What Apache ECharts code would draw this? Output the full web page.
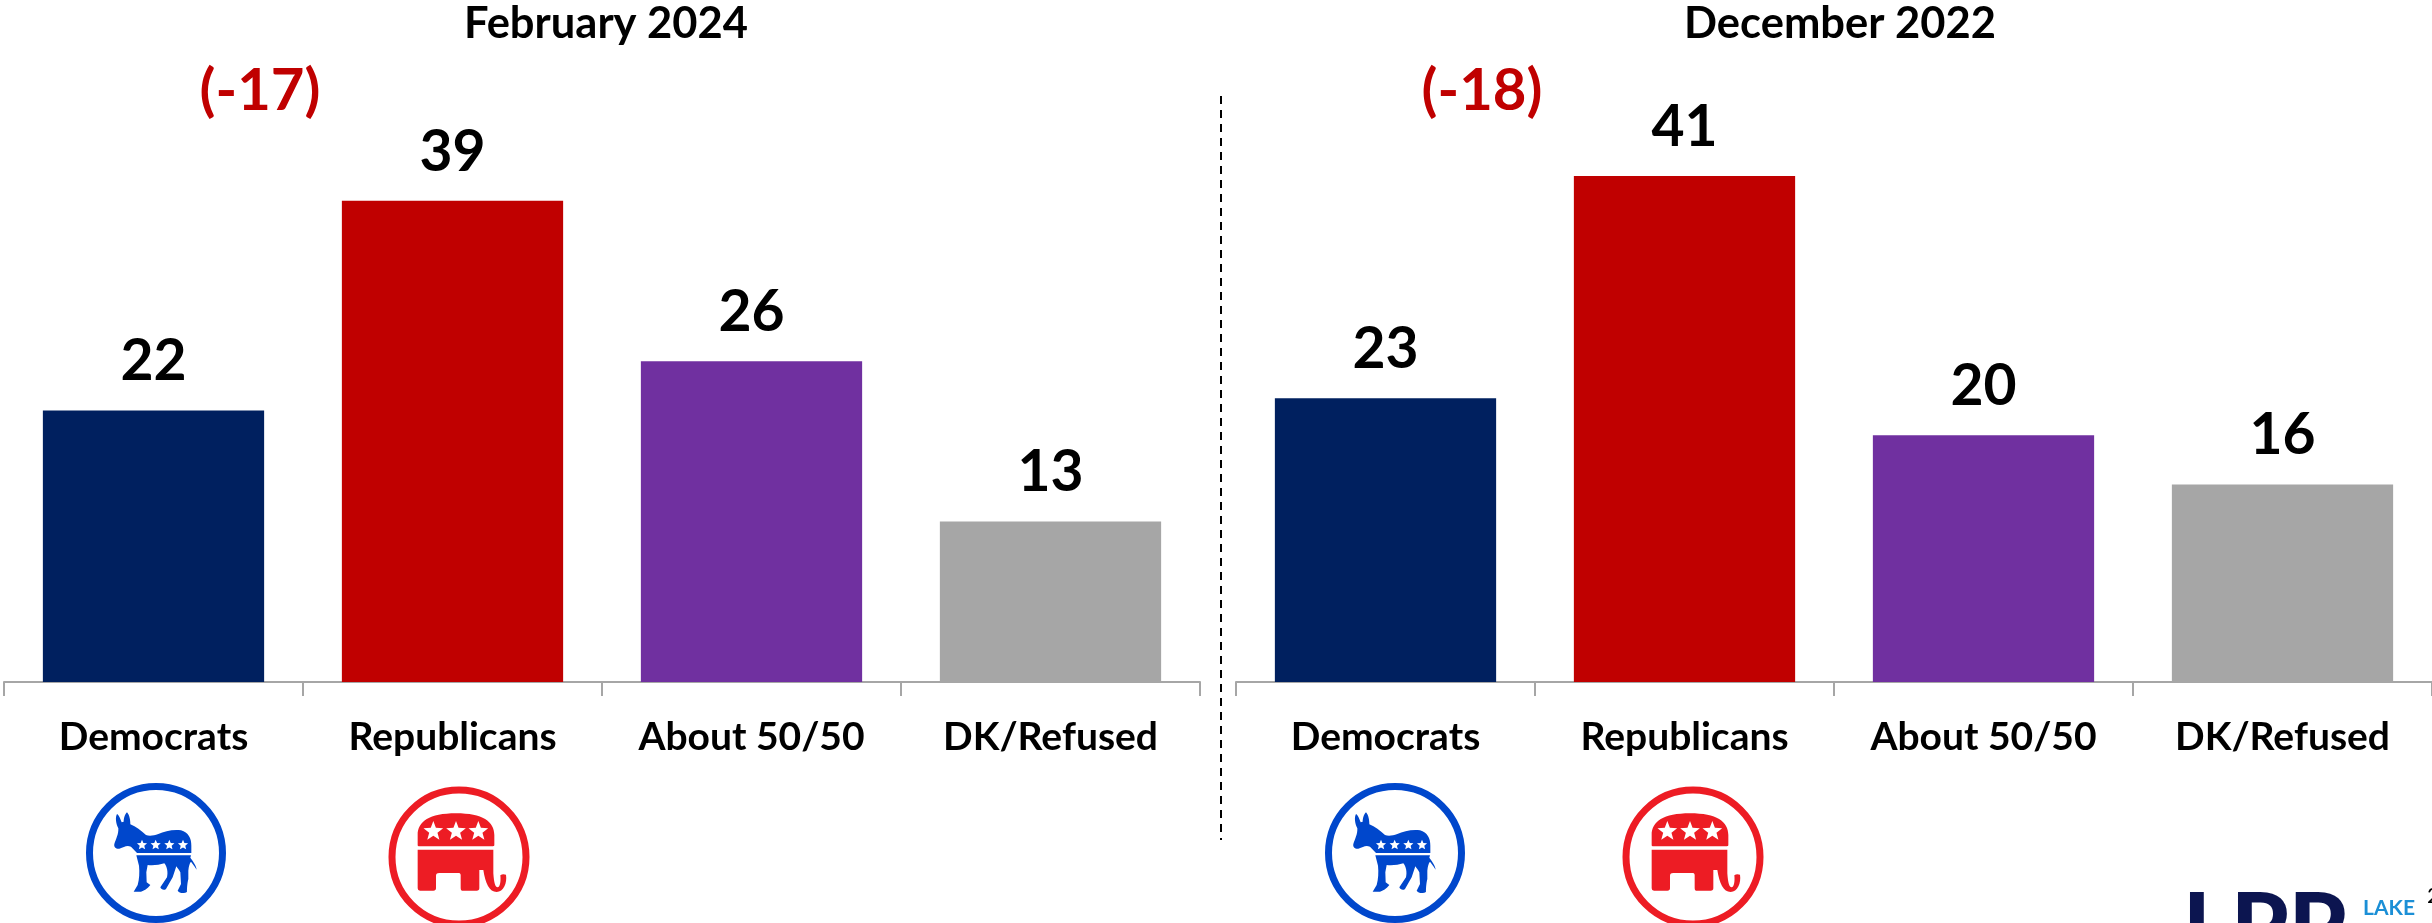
<!DOCTYPE html>
<html><head><meta charset="utf-8">
<style>html,body{margin:0;padding:0;background:#fff}#c{width:2432px;height:923px}</style>
<script src="https://cdn.jsdelivr.net/npm/echarts@6/dist/echarts.min.js"></script>
</head><body><div id="c"></div>
<script>
const categories = ['Democrats','Republicans','About 50/50','DK/Refused'];
const feb2024 = [22,39,26,13];
const dec2022 = [23,41,20,16];
const barColors = ['#00205F','#C00000','#7030A0','#A6A6A6'];
const titles = ['February 2024','December 2022'];
const netLabels = ['(-17)','(-18)'];
const FONT = 'Lato';

const donkey = 'M108 105 C114 108 118 120 122 130 L128 128 C128 118 132 105 138 100 C146 108 148 125 148 136 C165 143 180 155 195 168 C205 172 218 170 232 165 C250 158 275 150 300 154 C322 160 331 178 331 200 L331 222 L168 222 L150 203 C135 198 130 205 115 209 C105 210 98 205 100 195 C105 180 113 165 112 148 C105 135 102 115 108 105 Z M166 229 L330 229 L328 236 C335 245 345 258 347 272 L340 262 L330 248 C326 252 323 262 322 275 L322 300 C318 315 318 335 318 338 C310 345 295 343 290 335 L300 315 L298 280 C294 272 290 268 286 262 L275 295 L255 330 C248 336 240 330 238 325 L258 295 C262 280 258 262 250 253 C235 258 215 260 200 258 L196 280 L197 310 L208 318 C200 330 188 335 180 338 L158 338 L170 318 C175 300 176 280 174 260 Z';
const elephant = 'M95 195 L95 165 C95 125 130 100 210 100 C290 100 325 125 325 165 L325 195 C325 198 322 199 318 199 L100 199 C97 199 95 198 95 195 Z M95 209 L322 209 L322 280 C324 310 328 322 335 322 C342 322 345 305 343 286 Q350 280 360 284 C364 310 352 335 332 336 C310 336 298 310 292 270 L280 270 L280 325 Q280 332 272 332 L228 332 Q224 332 224 325 L224 285 C224 280 220 279 216 279 L160 279 C152 279 150 282 150 288 L150 325 Q150 332 142 332 L102 332 Q95 332 95 325 Z';
echarts.graphic.registerShape('donkeyIcon', echarts.graphic.extendPath(donkey, {}));
echarts.graphic.registerShape('elephantIcon', echarts.graphic.extendPath(elephant, {}));

const chart = echarts.init(document.getElementById('c'), null, {renderer:'canvas'});

function starPts(cx,cy,r,inner){const p=[];for(let i=0;i<10;i++){const a=-Math.PI/2+i*Math.PI/5,R=i%2?r*inner:r;p.push([cx+R*Math.cos(a),cy+R*Math.sin(a)]);}return p;}
function demLogo(cx,cy){
  const ox=cx-75,oy=cy-74;
  const kids=[
    {type:'circle',shape:{cx:cx,cy:cy,r:66.5},style:{fill:'#fff',stroke:'#0047CC',lineWidth:7}},
    {type:'donkeyIcon',x:ox,y:oy,scaleX:1/3,scaleY:1/3,style:{fill:'#0047CC'}}
  ];
  [183,224,265,306].forEach(sx=>kids.push({type:'polygon',x:ox,y:oy,scaleX:1/3,scaleY:1/3,shape:{points:starPts(sx,198,16,0.45)},style:{fill:'#fff'}}));
  return kids;
}
function repLogo(cx,cy){
  const ox=cx-73,oy=cy-77;
  const kids=[
    {type:'circle',shape:{cx:cx,cy:cy,r:67},style:{fill:'#fff',stroke:'#ED1C24',lineWidth:7}},
    {type:'elephantIcon',x:ox,y:oy,scaleX:1/3,scaleY:1/3,style:{fill:'#ED1C24'}}
  ];
  [142,210,277].forEach(sx=>kids.push({type:'polygon',x:ox,y:oy,scaleX:1/3,scaleY:1/3,shape:{points:starPts(sx,154,31,0.42)},style:{fill:'#fff'}}));
  return kids;
}
const graphics=[
  {type:'line',shape:{x1:1221,y1:96,x2:1221,y2:840},style:{stroke:'#000',lineWidth:2,lineDash:[8,6]}},
  {type:'text',x:260,y:91,style:{text:netLabels[0],font:'700 58px '+FONT,fill:'#C00000',align:'center',verticalAlign:'middle'}},
  {type:'text',x:1482,y:91,style:{text:netLabels[1],font:'700 58px '+FONT,fill:'#C00000',align:'center',verticalAlign:'middle'}},
  {type:'text',x:2183,y:883,style:{text:'LPP',font:'900 92px '+FONT,fill:'#0C1550',align:'left',verticalAlign:'top'}},
  {type:'text',x:2363,y:898,style:{text:'LAKE',font:'700 21px '+FONT,fill:'#1B8FD6',align:'left',verticalAlign:'top'}},
  {type:'text',x:2427,y:885,style:{text:'2',font:'400 22px '+FONT,fill:'#000',align:'left',verticalAlign:'top'}},
  ...demLogo(156,853),...repLogo(459,857),...demLogo(1395,853),...repLogo(1693,857)
];
const grids=[{left:4,width:1196,top:65,height:617},{left:1236,width:1196,top:65,height:617}];
const axisX=i=>({type:'category',gridIndex:i,data:categories,
  axisLine:{lineStyle:{color:'#A6A6A6',width:2}},
  axisTick:{show:true,length:14,alignWithLabel:false,lineStyle:{color:'#A6A6A6',width:2}},
  axisLabel:{color:'#000',fontFamily:FONT,fontWeight:700,fontSize:39,margin:36,interval:0}});
const axisY=i=>({type:'value',gridIndex:i,min:0,max:50,show:false,splitLine:{show:false}});
const serie=(i,vals)=>({type:'bar',xAxisIndex:i,yAxisIndex:i,barWidth:'74%',animation:false,
  data:vals.map((v,k)=>({value:v,itemStyle:{color:barColors[k]}})),
  label:{show:true,position:'top',distance:20,color:'#000',fontFamily:FONT,fontWeight:700,fontSize:57}});
chart.setOption({
  animation:false,backgroundColor:'#fff',
  title:[
    {text:titles[0],left:601,top:-3,textAlign:'center',textStyle:{color:'#000',fontFamily:FONT,fontWeight:700,fontSize:43.5}},
    {text:titles[1],left:1835,top:-3,textAlign:'center',textStyle:{color:'#000',fontFamily:FONT,fontWeight:700,fontSize:43.5}}
  ],
  grid:grids,xAxis:[axisX(0),axisX(1)],yAxis:[axisY(0),axisY(1)],
  series:[serie(0,feb2024),serie(1,dec2022)],
  graphic:graphics
});
</script></body></html>
